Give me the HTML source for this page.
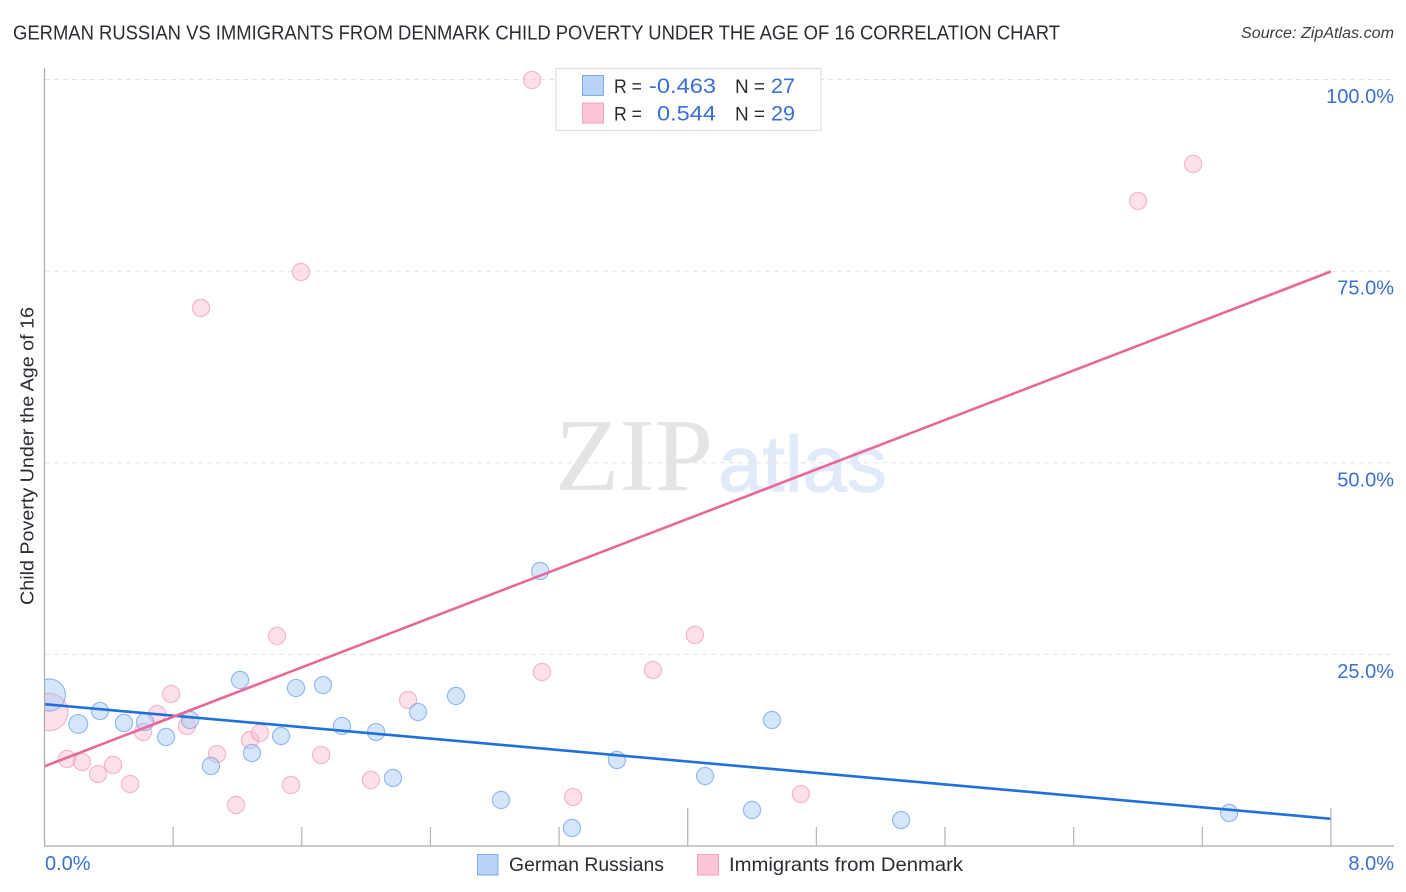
<!DOCTYPE html>
<html lang="en">
<head>
<meta charset="utf-8">
<title>German Russian vs Immigrants from Denmark Child Poverty Correlation Chart</title>
<style>
html,body{margin:0;padding:0;background:#fff;width:1406px;height:892px;overflow:hidden}
svg{display:block}
text{font-family:"Liberation Sans",sans-serif}
</style>
</head>
<body>
<svg id="chart" xmlns="http://www.w3.org/2000/svg" width="1406" height="892" viewBox="0 0 1406 892">
  <defs>
    <clipPath id="plot-clip"><rect x="45" y="60" width="1361" height="786"/></clipPath>
  </defs>
  <rect x="0" y="0" width="1406" height="892" fill="#ffffff"/>
  <text x="13" y="39.5" font-size="20" fill="#2a2d33" textLength="1047" lengthAdjust="spacingAndGlyphs">GERMAN RUSSIAN VS IMMIGRANTS FROM DENMARK CHILD POVERTY UNDER THE AGE OF 16 CORRELATION CHART</text>
  <text x="1241" y="38" font-size="15.5" font-style="italic" fill="#3a3d42" textLength="153" lengthAdjust="spacingAndGlyphs">Source: ZipAtlas.com</text>
  <text x="555" y="490" font-size="104" fill="#e4e4e4" textLength="158" lengthAdjust="spacingAndGlyphs" style="font-family:'Liberation Serif',serif">ZIP</text>
  <text x="718" y="491" font-size="79" fill="#e0eaf9" stroke="#e0eaf9" stroke-width="1" textLength="169" lengthAdjust="spacingAndGlyphs">atlas</text>
  <g id="grid"></g>
  <g id="points" clip-path="url(#plot-clip)"></g>
  <g id="trends"></g>
  <g id="axes"></g>
  <text transform="translate(33.5,605) rotate(-90)" font-size="18.5" fill="#2a2d33" textLength="298" lengthAdjust="spacingAndGlyphs">Child Poverty Under the Age of 16</text>

  <g>
    <rect x="556" y="68.5" width="265" height="62" fill="#ffffff" stroke="#dedede" stroke-width="1.2"/>
    <rect x="582.5" y="75.5" width="21" height="20" fill="#b9d3f7" stroke="#7fabea" stroke-width="1"/>
    <rect x="582.5" y="103" width="21" height="20" fill="#fcc6d8" stroke="#f0a3bd" stroke-width="1"/>
    <text x="614" y="93" font-size="19" fill="#2a2d33" textLength="28" lengthAdjust="spacingAndGlyphs">R =</text>
    <text x="649" y="93" font-size="21.5" fill="#3a70d2" textLength="67" lengthAdjust="spacingAndGlyphs">-0.463</text>
    <text x="735" y="93" font-size="19" fill="#2a2d33" textLength="30" lengthAdjust="spacingAndGlyphs">N =</text>
    <text x="771" y="93" font-size="21.5" fill="#3a70d2" textLength="24" lengthAdjust="spacingAndGlyphs">27</text>
    <text x="614" y="120.5" font-size="19" fill="#2a2d33" textLength="28" lengthAdjust="spacingAndGlyphs">R =</text>
    <text x="657" y="120.5" font-size="21.5" fill="#3a70d2" textLength="59" lengthAdjust="spacingAndGlyphs">0.544</text>
    <text x="735" y="120.5" font-size="19" fill="#2a2d33" textLength="30" lengthAdjust="spacingAndGlyphs">N =</text>
    <text x="771" y="120.5" font-size="21.5" fill="#3a70d2" textLength="24" lengthAdjust="spacingAndGlyphs">29</text>
  </g>

  <g>
    <rect x="477.5" y="854.5" width="20.5" height="20.5" fill="#b9d3f7" stroke="#7fabea" stroke-width="1"/>
    <text x="509" y="871" font-size="19" fill="#2a2d33" textLength="155" lengthAdjust="spacingAndGlyphs">German Russians</text>
    <rect x="697.5" y="854.5" width="21" height="20.5" fill="#fcc6d8" stroke="#f0a3bd" stroke-width="1"/>
    <text x="729" y="871" font-size="19" fill="#2a2d33" textLength="234" lengthAdjust="spacingAndGlyphs">Immigrants from Denmark</text>
  </g>
</svg>
<script>
// Chart data (x: percent share, y: child poverty percent, weight: relative population)
const xTickValues = [0.8, 1.6, 2.4, 3.2, 4.0, 4.8, 5.6, 6.4, 7.2, 8.0];
const tallXTicks = [4.0, 8.0];
const xTickLabels = ["0.0%", "8.0%"];
const xLabelValues = [0, 8];
const yTickValues = [100, 75, 50, 25];
const yTickLabels = ["100.0%", "75.0%", "50.0%", "25.0%"];

const blueX = [0.03, 0.21, 0.345, 0.494, 0.625, 0.756, 0.905, 1.035, 1.216, 1.29, 1.471, 1.564, 1.732, 1.85, 2.062, 2.167, 2.323, 2.559, 2.839, 3.082, 3.28, 3.56, 4.108, 4.4, 4.524, 5.327, 7.367];
const blueY = [19.7, 15.92, 17.61, 16.05, 16.18, 14.22, 16.44, 10.44, 21.66, 12.13, 14.35, 20.61, 21.0, 15.66, 14.87, 8.87, 17.48, 19.57, 6.0, 35.88, 2.35, 11.22, 9.13, 4.7, 16.44, 3.39, 4.31];
const blueWeight = [3.5, 1.2, 1, 1, 1, 1, 1, 1, 1, 1, 1, 1, 1, 1, 1, 1, 1, 1, 1, 1, 1, 1, 1, 1, 1, 1, 1];

const pinkX = [0.03, 0.14, 0.233, 0.333, 0.426, 0.532, 0.613, 0.7, 0.787, 0.886, 1.073, 1.191, 1.278, 1.34, 1.446, 1.533, 1.72, 2.03, 2.261, 0.973, 1.595, 3.032, 3.094, 3.287, 3.784, 4.045, 4.704, 6.801, 7.143];
const pinkY = [17.48, 11.35, 10.96, 9.39, 10.57, 8.09, 14.87, 17.22, 19.83, 15.66, 12.0, 5.35, 13.83, 14.74, 27.4, 7.96, 11.87, 8.61, 19.05, 70.19, 74.89, 99.93, 22.7, 6.39, 22.96, 27.53, 6.78, 84.15, 88.98];
const pinkWeight = [4.7, 1, 1, 1, 1, 1, 1, 1, 1, 1, 1, 1, 1, 1, 1, 1, 1, 1, 1, 1, 1, 1, 1, 1, 1, 1, 1, 1, 1];

const trendX = [0, 8];
const blueTrend = [18.5, 3.55];
const pinkTrend = [10.4, 74.95];

const NS = "http://www.w3.org/2000/svg";
function sx(v) { return 44.5 + v * 160.8; }
function sy(v) { return 846 - v * 7.665; }
function make(tag, attrs, parent) {
  const el = document.createElementNS(NS, tag);
  for (const k in attrs) el.setAttribute(k, attrs[k]);
  parent.appendChild(el);
  return el;
}
const gridG = document.getElementById("grid");
const pointsG = document.getElementById("points");
const trendsG = document.getElementById("trends");
const axesG = document.getElementById("axes");

yTickValues.forEach(function (v, i) {
  const line = make("line", { x1: 45, x2: 1394, y1: sy(v), y2: sy(v), stroke: "#e2e2e2", "stroke-width": 1, "stroke-dasharray": "5 4" }, gridG);
  
  
  const label = make("text", { x: 1394, y: sy(v) + 23.5, "text-anchor": "end", "font-size": 20, fill: "#3a70d2" }, axesG);
  label.textContent = yTickLabels[i];
  
  
});

function drawSeries(xs, ys, ws, fill, stroke, name) {
  xs.forEach(function (x, i) {
    const c = make("circle", { cx: sx(x), cy: sy(ys[i]), r: 8.6 * Math.sqrt(ws[i]), fill: fill, stroke: stroke, "stroke-width": 1.2 }, pointsG);
    
    
  });
}
drawSeries(pinkX, pinkY, pinkWeight, "rgba(250,180,205,0.42)", "rgba(235,150,180,0.62)", "immigrants-denmark-point");
drawSeries(blueX, blueY, blueWeight, "rgba(165,200,245,0.47)", "rgba(110,160,225,0.68)", "german-russians-point");

const blueLine = make("line", { x1: sx(trendX[0]), x2: sx(trendX[1]), y1: sy(blueTrend[0]), y2: sy(blueTrend[1]), stroke: "#2070dc", "stroke-width": 2.6 }, trendsG);


const pinkLine = make("line", { x1: sx(trendX[0]), x2: sx(trendX[1]), y1: sy(pinkTrend[0]), y2: sy(pinkTrend[1]), stroke: "#e8689a", "stroke-width": 2.6 }, trendsG);



const yAxis = make("line", { x1: 44.5, x2: 44.5, y1: 68, y2: 846.5, stroke: "#aaaaaa", "stroke-width": 1.2 }, axesG);


const xAxis = make("line", { x1: 44, x2: 1394, y1: 846, y2: 846, stroke: "#aaaaaa", "stroke-width": 1.2 }, axesG);



xTickValues.forEach(function (v) {
  const top = tallXTicks.indexOf(v) >= 0 ? 808 : 827;
  const t = make("line", { x1: sx(v), x2: sx(v), y1: top, y2: 846, stroke: "#b4b4b4", "stroke-width": 1.2 }, axesG);
  
  
});

xLabelValues.forEach(function (v, i) {
  const atEnd = i === xLabelValues.length - 1;
  const label = make("text", { x: atEnd ? 1394 : sx(v) + 0.5, y: 870, "text-anchor": atEnd ? "end" : "start", "font-size": 20, fill: "#3a70d2" }, axesG);
  label.textContent = xTickLabels[i];
  
  
});
</script>
</body>
</html>
